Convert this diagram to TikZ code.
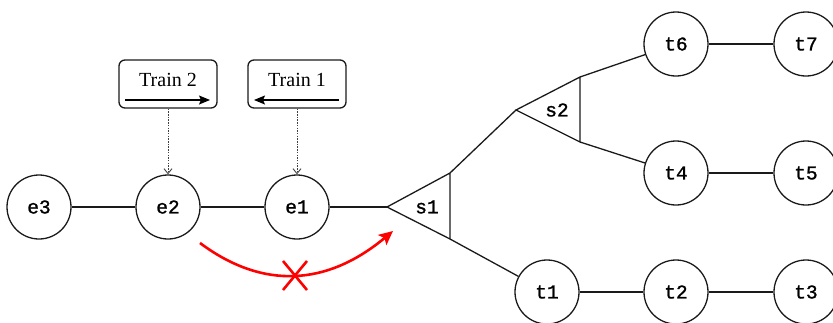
\documentclass[tikz,border=0pt]{standalone}
\usepackage{fontspec}
\setmainfont{Liberation Serif}
\newfontfamily\monof[FakeBold=1.3]{Liberation Mono}
\usetikzlibrary{arrows.meta}
\definecolor{lineblk}{HTML}{1A1A1A}
\definecolor{arrred}{HTML}{FF0000}
\tikzset{
  stn/.style={circle, draw=lineblk, line width=1.3pt, minimum size=64pt, inner sep=0pt,
    font=\monof\fontsize{19.5}{19.5}\selectfont},
  trk/.style={draw=lineblk, line width=1.3pt},
  trainbox/.style={draw=lineblk, line width=1.3pt, rounded corners=6pt, minimum width=98pt,
    minimum height=48pt, inner sep=0pt},
  traintext/.style={font=\fontsize{20}{20}\selectfont, inner sep=0pt, text=black},
  dir/.style={draw=black, line width=1.3pt, -{Stealth[length=11pt,width=9pt,inset=2pt]}},
  ptr/.style={draw=black!75, line width=0.9pt, dash pattern=on 1.5pt off 1.2pt,
    -{Straight Barb[length=5pt,width=8pt]}},
  swlabel/.style={font=\monof\fontsize{19.5}{19.5}\selectfont, inner sep=0pt},
  redarr/.style={draw=arrred, line width=2.6pt, -{Stealth[length=14pt,width=13pt,inset=3pt]}},
  redx/.style={draw=arrred, line width=2.6pt}
}
\begin{document}
\begin{tikzpicture}[x=1pt, y=-1pt]
\useasboundingbox (0,0) rectangle (833,322);
% stations
\node[stn] (e3) at (39,207) {e3};
\node[stn] (e2) at (168,207) {e2};
\node[stn] (e1) at (297,207) {e1};
\node[stn] (t6) at (676,44) {t6};
\node[stn] (t7) at (806,44) {t7};
\node[stn] (t4) at (676,173) {t4};
\node[stn] (t5) at (806,173) {t5};
\node[stn] (t1) at (547,292) {t1};
\node[stn] (t2) at (676,292) {t2};
\node[stn] (t3) at (806,292) {t3};
% switches
\coordinate (s1l) at (387,207);
\coordinate (s1t) at (450,173);
\coordinate (s1b) at (450,239);
\coordinate (s2l) at (516,110);
\coordinate (s2t) at (580,77);
\coordinate (s2b) at (580,142);
\draw[trk, line join=miter] (s1l) -- (s1t) -- (s1b) -- cycle;
\draw[trk, line join=miter] (s2l) -- (s2t) -- (s2b) -- cycle;
\node[swlabel] (s1) at (427,207) {s1};
\node[swlabel] (s2) at (557,110) {s2};
% tracks
\draw[trk] (e3) -- (e2);
\draw[trk] (e2) -- (e1);
\draw[trk] (e1) -- (s1l);
\draw[trk] (s1t) -- (s2l);
\draw[trk] (s1b) -- (t1);
\draw[trk] (s2t) -- (t6);
\draw[trk] (s2b) -- (t4);
\draw[trk] (t6) -- (t7);
\draw[trk] (t4) -- (t5);
\draw[trk] (t1) -- (t2);
\draw[trk] (t2) -- (t3);
% trains
\node[trainbox] (tb2) at (168,84) {};
\node[trainbox] (tb1) at (297,84) {};
\node[traintext] (tt2) at (168,80) {Train 2};
\node[traintext] (tt1) at (297,80) {Train 1};
\coordinate (a2s) at (125,100);
\coordinate (a2e) at (210,100);
\coordinate (a1s) at (339,100);
\coordinate (a1e) at (254,100);
\draw[dir] (a2s) -- (a2e);
\draw[dir] (a1s) -- (a1e);
\draw[ptr] (tb2) -- (e2);
\draw[ptr] (tb1) -- (e1);
% blocked move
\coordinate (rs) at (200,243);
\coordinate (re) at (393,231);
\draw[redarr] (rs) .. controls (263,290) and (327,286) .. (re);
\coordinate (x1) at (283,261);
\coordinate (x2) at (307,290);
\coordinate (x3) at (307,261);
\coordinate (x4) at (283,290);
\draw[redx] (x1) -- (x2);
\draw[redx] (x3) -- (x4);
\end{tikzpicture}
\end{document}
